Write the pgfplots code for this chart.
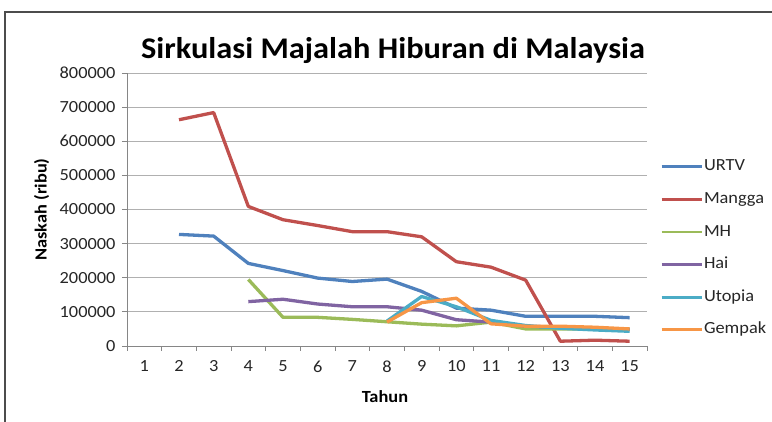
\documentclass[border=0pt]{standalone}
\usepackage{pgfplots}
\pgfplotsset{compat=1.18}
\usepackage{fontspec}
\setmainfont[FakeStretch=1.08]{Carlito}
\definecolor{cBlue}{HTML}{4F81BD}
\definecolor{cRed}{HTML}{C0504D}
\definecolor{cGreen}{HTML}{9BBB59}
\definecolor{cPurple}{HTML}{8064A2}
\definecolor{cAqua}{HTML}{4BACC6}
\definecolor{cOrange}{HTML}{F79646}
\definecolor{gridc}{HTML}{B0B0B0}
\definecolor{axc}{HTML}{868686}
\definecolor{txt}{HTML}{262626}
\begin{document}
\begin{tikzpicture}[x=1pt,y=1pt]
\useasboundingbox (0,0) rectangle (772,422);
\begin{scope}
\clip (0,0) rectangle (772,422);
\draw[line width=1.6pt, color=black!70] (5,-10) -- (5,410) -- (790,410);
\end{scope}
\node[font=\bfseries\fontsize{30}{34}\selectfont, text=black] at (393,371) {Sirkulasi Majalah Hiburan di Malaysia};
\begin{axis}[
  at={(127pt,76pt)}, anchor=south west,
  scale only axis, width=520pt, height=273pt,
  xmin=0.5, xmax=15.5, ymin=0, ymax=800000,
  axis x line*=bottom, axis y line*=left,
  axis line style={axc, line width=0.8pt, -},
  xtick={0.5,1.5,...,15.5},
  xticklabels={1,2,3,4,5,6,7,8,9,10,11,12,13,14,15},
  x tick label as interval,
  ytick={0,100000,...,800000},
  scaled y ticks=false,
  tick align=outside, major tick length=5pt,
  tick style={axc, line width=0.8pt},
  ymajorgrids, grid style={gridc, line width=0.8pt},
  tick label style={font=\fontsize{17}{19}\selectfont, text=txt},
  xticklabel style={yshift=-6pt},
  yticklabel style={xshift=-3pt, /pgf/number format/.cd, fixed, 1000 sep={}, assume math mode=true},
  xlabel={\textbf{Tahun}},
  xlabel style={font=\fontsize{17}{19}\selectfont, text=black, at={(axis description cs:0.496,-0.187)}, anchor=center},
  ylabel={\textbf{Naskah (ribu)}},
  ylabel style={font=\fontsize{17}{19}\selectfont, text=black, at={(axis description cs:-0.164,0.50)}, anchor=center},
  legend style={at={(axis description cs:1.025,0.69)}, anchor=north west, draw=none, fill=none,
    font=\fontsize{17}{19}\selectfont, text=txt, row sep=14.6pt, inner sep=0pt,
    nodes={text height=12pt, text depth=4pt, inner sep=1pt}},
  legend cell align=left,
  legend image code/.code={\draw[#1, line width=2.8pt] (0pt,0pt) -- (40pt,0pt);},
  every axis plot/.append style={line width=3.3pt, line join=round},
  clip=false,
]
\addplot[cBlue] coordinates {(2,327000)(3,322000)(4,242000)(5,221000)(6,199000)(7,189000)(8,196000)(9,160000)(10,111000)(11,105000)(12,87000)(13,87000)(14,87000)(15,83000)};
\addlegendentry{URTV}
\addplot[cRed] coordinates {(2,663000)(3,684000)(4,409000)(5,370000)(6,353000)(7,335000)(8,335000)(9,320000)(10,247000)(11,231000)(12,193000)(13,14000)(14,17000)(15,14000)};
\addlegendentry{Mangga}
\addplot[cGreen] coordinates {(4,195000)(5,84000)(6,84000)(7,78000)(8,71000)(9,64000)(10,59000)(11,70000)(12,50000)(13,50000)(14,50000)(15,50000)};
\addlegendentry{MH}
\addplot[cPurple] coordinates {(4,130000)(5,137000)(6,123000)(7,115000)(8,115000)(9,105000)(10,77000)(11,70000)(12,58000)(13,55000)(14,52000)(15,48000)};
\addlegendentry{Hai}
\addplot[cAqua] coordinates {(8,73000)(9,145000)(10,115000)(11,75000)(12,60000)(13,52000)(14,47000)(15,43000)};
\addlegendentry{Utopia}
\addplot[cOrange] coordinates {(8,70000)(9,127000)(10,140000)(11,65000)(12,58000)(13,58000)(14,55000)(15,50000)};
\addlegendentry{Gempak}
\end{axis}
\end{tikzpicture}
\end{document}
